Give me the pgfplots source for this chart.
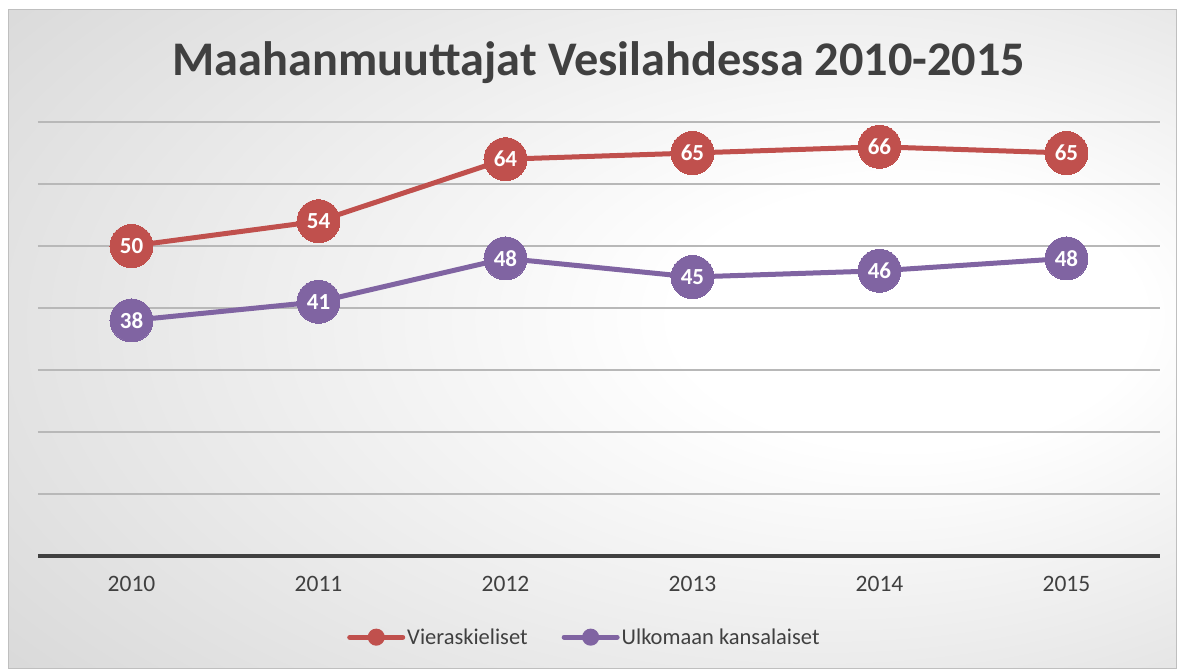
\documentclass[border=0pt]{standalone}
\usepackage{pgfplots}
\pgfplotsset{compat=1.18}
\usepackage{fontspec}
\setmainfont{Carlito}
\definecolor{cred}{HTML}{C0504D}
\definecolor{cpur}{HTML}{8064A2}
\definecolor{ctxt}{HTML}{404040}
\pgfdeclareradialshading{bgshade}{\pgfpoint{16bp}{2bp}}{color(0bp)=(white); color(10bp)=(white); color(66bp)=(black!27)}
\begin{document}
\begin{tikzpicture}
\path[use as bounding box] (0pt,0pt) rectangle (1184pt,670pt);
\fill[white] (0pt,0pt) rectangle (1184pt,670pt);
\shade[shading=bgshade] (8pt,2pt) rectangle (1176pt,660pt);
\draw[black!25, line width=1pt] (8pt,2pt) rectangle (1176pt,660pt);
\node[font=\bfseries\fontsize{48.3}{52}\selectfont, text=ctxt] at (599pt,607pt) {Maahanmuuttajat Vesilahdessa 2010-2015};
\begin{axis}[
  at={(38pt,114pt)}, anchor=south west, scale only axis,
  width=1122pt, height=434pt,
  xmin=-0.5, xmax=5.5, ymin=0, ymax=70,
  axis x line=bottom, axis y line=left,
  x axis line style={line width=4pt, color=ctxt, -},
  y axis line style={draw=none},
  xtick={0,1,2,3,4,5},
  xticklabels={2010,2011,2012,2013,2014,2015},
  ytick={10,20,30,40,50,60,70},
  yticklabels={},
  ymajorgrids,
  major grid style={line width=1.5pt, color=black!28},
  major tick length=0pt,
  xticklabel style={font=\fontsize{23.5}{24}\selectfont, text=ctxt, yshift=-17pt},
  clip=false,
  /pgf/number format/assume math mode=true,
  legend columns=2,
  legend style={at={(0.487,-0.187)}, anchor=center, draw=none, fill=none,
    font=\fontsize{22.5}{23}\selectfont, text=ctxt,
    /tikz/every even column/.append style={column sep=32pt}},
  every axis plot/.append style={
    legend image code/.code={\draw[line width=5pt, line cap=round] (0pt,0pt) -- (53pt,0pt); \fill (26.5pt,0pt) circle (6pt);}},
  nodes near coords,
  every node near coord/.append style={anchor=center, text=white, font=\bfseries\fontsize{23}{23}\selectfont},
]
\addplot[color=cred, line width=5pt, mark=*, mark size=21.5pt, mark options={fill=cred, draw=cred, line width=0pt}]
  coordinates {(0,50) (1,54) (2,64) (3,65) (4,66) (5,65)};
\addlegendentry{Vieraskieliset}
\addplot[color=cpur, line width=5pt, mark=*, mark size=21.5pt, mark options={fill=cpur, draw=cpur, line width=0pt}]
  coordinates {(0,38) (1,41) (2,48) (3,45) (4,46) (5,48)};
\addlegendentry{Ulkomaan kansalaiset}
\end{axis}
\end{tikzpicture}
\end{document}
